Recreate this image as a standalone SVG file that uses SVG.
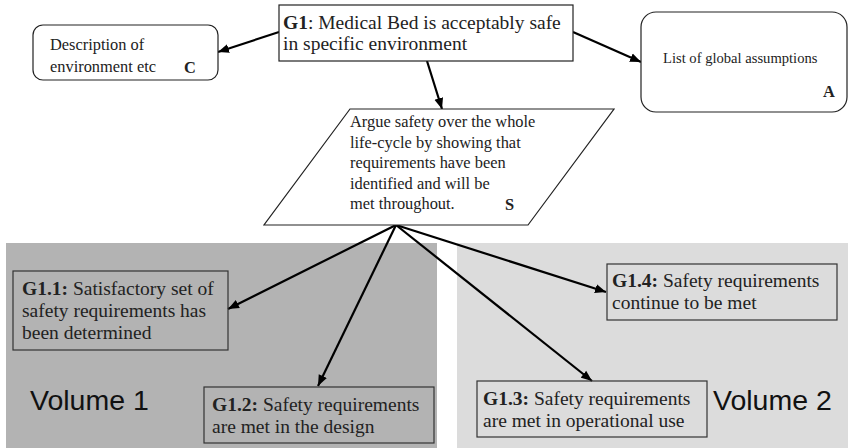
<svg xmlns="http://www.w3.org/2000/svg" width="848" height="448" viewBox="0 0 848 448">
<style>
.box{fill:none;stroke:#333;stroke-width:1.2}
.wbox{fill:#fff;stroke:#222;stroke-width:1.2}
.t{font-family:"Liberation Serif",Tinos,"Times New Roman",Times,"DejaVu Serif",serif;fill:#222}
.g{font-size:19.5px}
.s{font-size:16.4px}
.a{font-size:14.6px}
.b{font-weight:bold}
.vol{font-family:"Liberation Sans",Arial,sans-serif;font-size:28.5px;fill:#111}
.conn{stroke:#000;stroke-width:2.2;fill:none;marker-end:url(#ah)}
</style>
<defs>
<marker id="ah" markerUnits="userSpaceOnUse" markerWidth="12" markerHeight="10" refX="11" refY="5" orient="auto">
<path d="M0,0.5 L11,5 L0,9.5 Z" fill="#000"/>
</marker>
</defs>
<rect width="848" height="448" fill="#fff"/>
<g id="volume1">
<rect x="6" y="243" width="431" height="205" fill="#b3b3b3"/>
<text class="vol" x="30" y="410">Volume 1</text>
</g>
<g id="volume2">
<rect x="457" y="243" width="391" height="205" fill="#dcdcdc"/>
<text class="vol" x="713" y="410">Volume 2</text>
</g>
<g id="connectors">
<path class="conn" d="M279,32 L218,52"/>
<path class="conn" d="M573,32 L641,62"/>
<path class="conn" d="M427,61 L442,109"/>
<path class="conn" d="M396,225 L228,309"/>
<path class="conn" d="M396,225 L318,386"/>
<path class="conn" d="M396,225 L592,381"/>
<path class="conn" d="M396,225 L606,292"/>
</g>
<g id="C" font-family="Liberation Serif, serif">
<rect class="wbox" x="33" y="25" width="185" height="55" rx="10"/>
<text class="t s" x="50" y="50">Description of</text>
<text class="t s" x="50" y="72">environment etc</text>
<text class="t s b" x="184" y="73">C</text>
</g>
<g id="G1">
<rect class="wbox" x="279" y="5" width="294" height="56"/>
<text class="t g" x="283" y="29"><tspan class="b">G1</tspan>: Medical Bed is acceptably safe</text>
<text class="t g" x="283" y="50">in specific environment</text>
</g>
<g id="A">
<rect class="wbox" x="641" y="12" width="206" height="100" rx="15"/>
<text class="t a" x="663" y="63">List of global assumptions</text>
<text class="t s b" x="823" y="97">A</text>
</g>
<g id="S">
<polygon class="wbox" points="350,109 614,109 528,225 264,225"/>
<text class="t s" x="350" y="127">Argue safety over the whole</text>
<text class="t s" x="350" y="147.5">life-cycle by showing that</text>
<text class="t s" x="350" y="168">requirements have been</text>
<text class="t s" x="350" y="188.5">identified and will be</text>
<text class="t s" x="350" y="209">met throughout.</text>
<text class="t s b" x="505" y="210">S</text>
</g>
<g id="G1.1">
<rect class="box" x="13" y="271" width="215" height="79"/>
<text class="t g" x="22" y="295"><tspan class="b">G1.1:</tspan> Satisfactory set of</text>
<text class="t g" x="22" y="317">safety requirements has</text>
<text class="t g" x="22" y="339">been determined</text>
</g>
<g id="G1.2">
<rect class="box" x="204" y="387" width="230" height="56"/>
<text class="t g" x="212" y="411"><tspan class="b">G1.2:</tspan> Safety requirements</text>
<text class="t g" x="212" y="433">are met in the design</text>
</g>
<g id="G1.3">
<rect class="box" x="477" y="381" width="230" height="56"/>
<text class="t g" x="483" y="405"><tspan class="b">G1.3:</tspan> Safety requirements</text>
<text class="t g" x="483" y="427">are met in operational use</text>
</g>
<g id="G1.4">
<rect class="box" x="607" y="264" width="230" height="56"/>
<text class="t g" x="612" y="287"><tspan class="b">G1.4:</tspan> Safety requirements</text>
<text class="t g" x="612" y="309">continue to be met</text>
</g>
</svg>
